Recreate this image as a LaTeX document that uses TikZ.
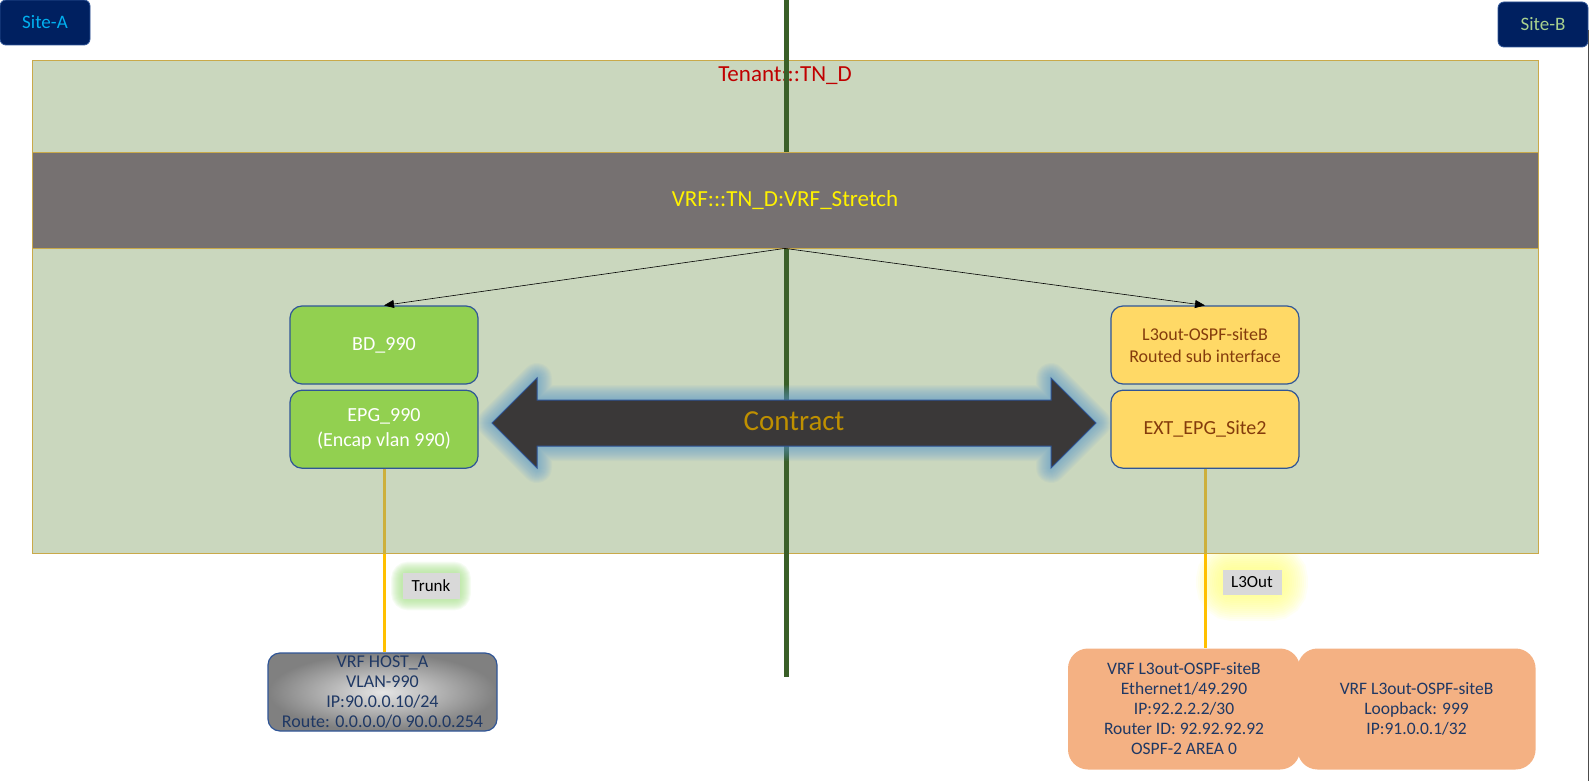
\documentclass[tikz,border=0pt]{standalone}
\usepackage{fontspec}
\setmainfont{Carlito}
\usetikzlibrary{arrows.meta}
\usetikzlibrary{positioning}
\usetikzlibrary{backgrounds}

\definecolor{sitefill}{HTML}{002060}
\definecolor{siteedge}{HTML}{2F5597}
\definecolor{siteatext}{HTML}{00B0F0}
\definecolor{sitebtext}{HTML}{A9D18E}
\definecolor{tenantfill}{HTML}{CAD7BE}
\definecolor{tenantedge}{HTML}{C9A94A}
\definecolor{tenanttext}{HTML}{C00000}
\definecolor{vrffill}{HTML}{767171}
\definecolor{divider}{HTML}{3A5F28}
\definecolor{epggreen}{HTML}{92D050}
\definecolor{boxedge}{HTML}{2F5597}
\definecolor{l3yellow}{HTML}{FFD966}
\definecolor{l3text}{HTML}{843C0C}
\definecolor{contractfill}{HTML}{3A3838}
\definecolor{contracttext}{HTML}{BF9000}
\definecolor{glowblue}{HTML}{5B9BD5}
\definecolor{uplink}{HTML}{FFC000}
\definecolor{uplinkdim}{HTML}{CDB03C}
\definecolor{tagfill}{HTML}{D9D9D9}
\definecolor{trunkglow}{HTML}{A8E08C}
\definecolor{l3glow}{HTML}{FFFF70}
\definecolor{hosttext}{HTML}{1F3864}
\definecolor{rtrfill}{HTML}{F4B183}

\newcommand{\contractshape}{(492,423) -- (537,378) -- (537,400) -- (1051,400) -- (1051,378) -- (1096,423) -- (1051,468) -- (1051,446) -- (537,446) -- (537,468) -- cycle}

\begin{document}
\begin{tikzpicture}[
				x=1pt, y=-1pt,
				line width=0.2mm,
				node distance=5pt,
				arrow/.style={line width=0.6pt, -{Triangle[length=10pt,width=8pt]}},
				sitebox/.style={draw=siteedge, line width=0.8pt, fill=sitefill, rounded corners=6pt, minimum width=90pt, minimum height=45pt, inner sep=0pt, font=\fontsize{19}{23}\selectfont},
				greenbox/.style={draw=boxedge, line width=1.2pt, fill=epggreen, rounded corners=12pt, minimum width=188pt, minimum height=78pt, inner sep=0pt, text=white, align=center, font=\fontsize{20}{25}\selectfont},
				yellowbox/.style={greenbox, fill=l3yellow, text=l3text},
				tag/.style={fill=tagfill, minimum width=57pt, minimum height=26pt, inner sep=0pt, font=\fontsize{17}{20}\selectfont},
				link/.style={draw=uplink, line width=3pt},
				hostbox/.style={draw=boxedge, line width=1.2pt, rounded corners=12pt, inner color=white!90!black, outer color=black!50, minimum width=229pt, minimum height=78pt, inner sep=0pt, text=hosttext, align=center, font=\fontsize{18}{20}\selectfont},
				rtrbox/.style={fill=rtrfill, rounded corners=20pt, minimum height=121pt, inner sep=0pt, text=hosttext, align=center, font=\fontsize{17.5}{20}\selectfont},
			]
				\useasboundingbox (0,0) rectangle (1589,781);

				% sites
				\node (sitea) [sitebox, text=siteatext] at (45,22.5) {Site-A};
				\node (siteb) [sitebox, text=sitebtext] at (1543,24.5) {Site-B};
				\draw[black!70, line width=1pt] (1588.5,30) -- (1588.5,781);

				% tenant
				\node (tenant) [draw=tenantedge, line width=1pt, fill=tenantfill, minimum width=1506pt, minimum height=492pt, inner sep=0pt] at (785,307) {};
				\node (tenantname) [text=tenanttext, font=\fontsize{23}{27}\selectfont] at (785,76) {Tenant:::TN\_D};

				\coordinate (divtop) at (786,0);
				\coordinate (divbot) at (786,677);
				\draw[divider, line width=5pt] (divtop) -- (divbot);

				\node (vrf) [draw=tenantedge, line width=0.8pt, fill=vrffill, minimum width=1506pt, minimum height=96pt, inner sep=0pt, text=yellow, font=\fontsize{23}{27}\selectfont] at (785,200) {VRF:::TN\_D:VRF\_Stretch};

				% endpoint groups
				\node (bd) [greenbox] at (384,345) {BD\_990};
				\node (epg) [greenbox, below=5pt of bd] {EPG\_990\\(Encap vlan 990)};
				\node (l3) [yellowbox, font=\fontsize{18}{22}\selectfont] at (1205,345) {L3out-OSPF-siteB\\Routed sub interface};
				\node (ext) [yellowbox, below=5pt of l3] {EXT\_EPG\_Site2};

				\draw[arrow] (vrf.south) -- (bd.north);
				\draw[arrow] (vrf.south) -- (l3.north);

				% contract
				\foreach \w in {2,4,...,30}
					\draw[glowblue, line width=\w pt, opacity=0.055, line join=round] \contractshape;
				\draw[draw=boxedge, line width=1pt, fill=contractfill] \contractshape;
				\node (contract) [text=contracttext, font=\fontsize{29}{34}\selectfont] at (794,421) {Contract};

				% outside
				\node (host) [hostbox] at (382.5,692) {VRF HOST\_A\\VLAN-990\\IP:90.0.0.10/24\\Route: 0.0.0.0/0 90.0.0.254};
				\node (rtr) [rtrbox, minimum width=232pt] at (1184,709) {VRF L3out-OSPF-siteB\\Ethernet1/49.290\\IP:92.2.2.2/30\\Router ID: 92.92.92.92\\OSPF-2 AREA 0};
				\node (lo) [rtrbox, minimum width=238pt, right=-3pt of rtr] {VRF L3out-OSPF-siteB\\Loopback: 999\\IP:91.0.0.1/32};

				\draw[link] (epg.south) -- (epg.south |- host.north);
				\draw[link, draw=uplinkdim] (epg.south) -- (epg.south |- tenant.south);
				\draw[link] (ext.south) -- (ext.south |- rtr.north);
				\draw[link, draw=uplinkdim] (ext.south) -- (ext.south |- tenant.south);

				\node (trunk) [tag] at (431,586) {Trunk};
				\node (l3tag) [tag, minimum width=59pt, minimum height=25pt] at (1252,582) {L3Out};
				\begin{scope}[on background layer]
					\foreach \w in {2,4,...,22}
						\draw[trunkglow, line width=\w pt, opacity=0.1, rounded corners=6pt] (trunk.south west) rectangle (trunk.north east);
					\foreach \w in {4,8,...,52}
						\draw[l3glow, line width=\w pt, opacity=0.08, rounded corners=10pt] (l3tag.south west) rectangle (l3tag.north east);
				\end{scope}
			\end{tikzpicture}
\end{document}
